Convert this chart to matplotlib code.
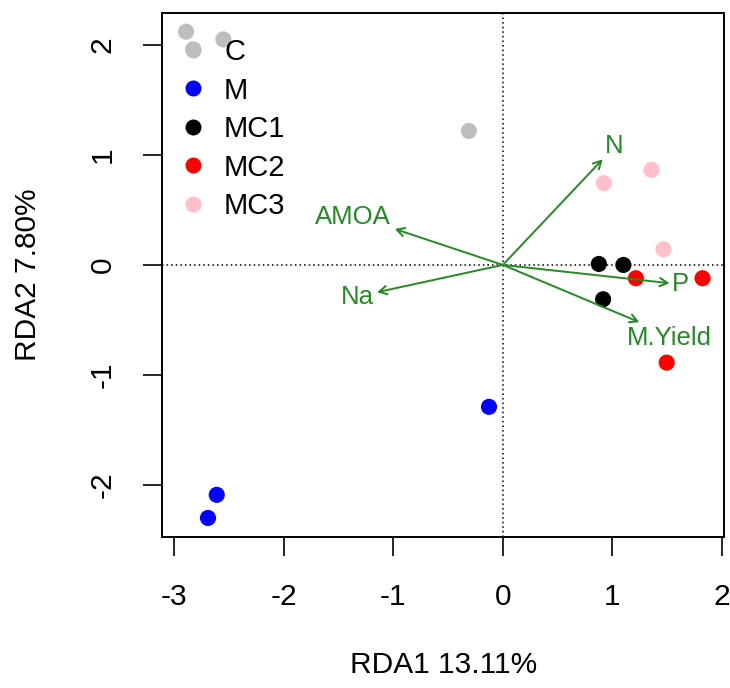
import numpy as np
import matplotlib.pyplot as plt
from matplotlib.lines import Line2D

plt.rcParams['font.family'] = ['Liberation Sans', 'DejaVu Sans']
plt.rcParams['axes.unicode_minus'] = False

# site scores (RDA1, RDA2) per treatment
groups = ['C', 'M', 'MC1', 'MC2', 'MC3']
colors = ['#BEBEBE', '#0000FF', '#000000', '#FF0000', '#FFC0CB']
rda1 = {
    'C': [-2.89, -2.825, -2.55, -0.31],
    'M': [-0.126, -2.61, -2.69],
    'MC1': [0.876, 1.10, 0.915],
    'MC2': [1.214, 1.822, 1.495],
    'MC3': [0.922, 1.357, 1.465],
}
rda2 = {
    'C': [2.12, 1.96, 2.05, 1.218],
    'M': [-1.29, -2.09, -2.30],
    'MC1': [0.009, 0.0, -0.312],
    'MC2': [-0.121, -0.121, -0.888],
    'MC3': [0.743, 0.864, 0.143],
}

# environmental vectors
env_names = ['N', 'AMOA', 'Na', 'P', 'M.Yield']
env_x = [0.91, -0.985, -1.147, 1.52, 1.245]
env_y = [0.96, 0.327, -0.248, -0.166, -0.52]
lab_x = [1.02, -1.366, -1.33, 1.62, 1.515]
lab_y = [1.08, 0.44, -0.294, -0.17, -0.66]

arrow_col = '#228B22'

fig = plt.figure(figsize=(7.3, 6.88), dpi=100)
ax = fig.add_axes([0.2226, 0.2195, 0.7692, 0.7616])

ax.axhline(0, color='black', linestyle=(0, (1, 2)), linewidth=1.1, zorder=1)
ax.axvline(0, color='black', linestyle=(0, (1, 2)), linewidth=1.1, zorder=1)

for g, c in zip(groups, colors):
    ax.scatter(rda1[g], rda2[g], s=135, color=c, edgecolors='none', zorder=3)

for i in range(len(env_names)):
    ax.annotate('', xy=(env_x[i], env_y[i]), xytext=(0, 0),
                arrowprops=dict(arrowstyle='->,head_length=0.55,head_width=0.3',
                                color=arrow_col, lw=1.4,
                                shrinkA=0, shrinkB=0), zorder=4)
    ax.text(lab_x[i], lab_y[i], env_names[i], color=arrow_col, fontsize=18.5,
            ha='center', va='center', zorder=5)

ax.set_xlim(-3.105, 2.018)
ax.set_ylim(-2.473, 2.29)
ax.set_xticks([-3, -2, -1, 0, 1, 2])
ax.set_yticks([-2, -1, 0, 1, 2])
ax.tick_params(axis='both', direction='out', length=14, width=1.2,
               labelsize=21.5, pad=19)
for lbl in ax.get_yticklabels():
    lbl.set_rotation(90)
    lbl.set_va('center')
for sp in ax.spines.values():
    sp.set_linewidth(1.4)

ax.set_xlabel('RDA1 13.11%', fontsize=21.5, va='center')
ax.set_ylabel('RDA2 7.80%', fontsize=21.5, va='center')
ax.xaxis.set_label_coords(0.5, -0.244)
ax.yaxis.set_label_coords(-0.2395, 0.5)

handles = [Line2D([], [], linestyle='none', marker='o', markersize=11.5,
                  markerfacecolor=c, markeredgecolor='none') for c in colors]
ax.legend(handles, groups, loc='upper left', bbox_to_anchor=(0.0285, 0.952),
          frameon=False, fontsize=21, handlelength=1.0, handletextpad=0.56,
          labelspacing=0.36, borderpad=0, borderaxespad=0)

fig.savefig('out.png', dpi=100)
